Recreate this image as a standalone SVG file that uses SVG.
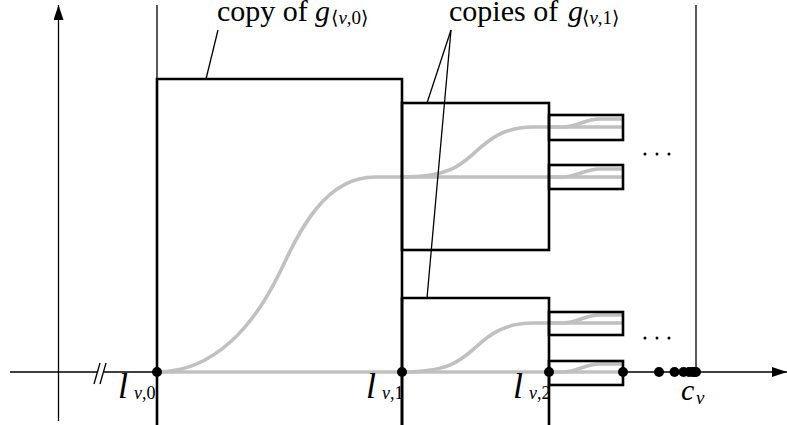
<svg xmlns="http://www.w3.org/2000/svg" width="787" height="425" viewBox="0 0 787 425">
<style>
.thin{stroke:#000;stroke-width:1.3;fill:none}
.box{stroke:#000;stroke-width:2.6;fill:none;stroke-linejoin:miter}
.gray{stroke:#c0c0c0;stroke-width:3.6;fill:none}
.dot{fill:#000}
.lbl{font-family:"Liberation Serif","DejaVu Serif",serif;fill:#000}
.it{font-style:italic}
</style>
<defs>
<marker id="ah" viewBox="0 0 15 10" refX="15" refY="5" markerWidth="15" markerHeight="10" markerUnits="userSpaceOnUse" orient="auto">
<path d="M0,0 L15,5 L0,10 Z" fill="#000"/>
</marker>
</defs>
<rect width="787" height="425" fill="#fff"/>
<g id="axes">
<line class="thin" x1="58.5" y1="421" x2="58.5" y2="5" marker-end="url(#ah)"/>
<line class="thin" x1="10" y1="372" x2="97" y2="372"/>
<line class="thin" x1="104" y1="372" x2="787" y2="372" marker-end="url(#ah)"/>
<line class="thin" x1="94" y1="384" x2="100" y2="363"/>
<line class="thin" x1="100" y1="384" x2="106" y2="363"/>
<line class="thin" x1="157" y1="5" x2="157" y2="79"/>
<line class="thin" x1="696" y1="5" x2="696" y2="372"/>
</g>
<g id="curves">
<path class="gray" d="M157,372 H623"/>
<path class="gray" d="M157,372 C215,372 255,324 280,272 C300,230 325,177 375,177 H623"/>
<path class="gray" d="M402,177 C450,177 461,164.7 476,151.4 C488,140.6 503,127 533,127 H623"/>
<path class="gray" d="M402,372 C450,372 461,360 476,347 C488,336 503,323 533,323 H623"/>
<path class="gray" d="M549,127 H562 C578,127 584,119 600,119 H623"/>
<path class="gray" d="M549,177 H562 C578,177 584,169 600,169 H623"/>
<path class="gray" d="M549,323 H562 C578,323 584,315 600,315 H623"/>
<path class="gray" d="M549,372 H562 C578,372 584,364 600,364 H623"/>
</g>
<g id="box-v0">
<path class="box" d="M157,425 V79 H402 V425"/>
</g>
<g id="box-v1-upper">
<rect class="box" x="402" y="103" width="147" height="147"/>
</g>
<g id="box-v1-lower">
<path class="box" d="M402,425 V298 H549 V425"/>
</g>
<g id="box-v2-a"><rect class="box" x="549" y="115" width="74" height="25"/></g>
<g id="box-v2-b"><rect class="box" x="549" y="165" width="74" height="24"/></g>
<g id="box-v2-c"><rect class="box" x="549" y="312" width="74" height="23"/></g>
<g id="box-v2-d"><rect class="box" x="549" y="361" width="74" height="24"/></g>
<g id="connectors">
<line class="thin" x1="218" y1="30" x2="206" y2="79"/>
<line class="thin" x1="451" y1="30" x2="427" y2="103"/>
<line class="thin" x1="451" y1="30" x2="427" y2="298"/>
</g>
<g id="points">
<circle class="dot" cx="157" cy="372" r="5"/>
<circle class="dot" cx="402" cy="372" r="5"/>
<circle class="dot" cx="549" cy="372" r="5"/>
<circle class="dot" cx="623" cy="372" r="5"/>
<circle class="dot" cx="659" cy="372" r="5"/>
<circle class="dot" cx="674.5" cy="372" r="5"/>
<circle class="dot" cx="683.5" cy="372" r="5"/>
<circle class="dot" cx="689" cy="372" r="5"/>
<circle class="dot" cx="692.5" cy="372" r="5"/>
<circle class="dot" cx="694.5" cy="372" r="5"/>
<circle class="dot" cx="696" cy="372" r="5"/>
</g>
<g id="ellipses">
<circle class="dot" cx="645" cy="154" r="1.5"/>
<circle class="dot" cx="657" cy="154" r="1.5"/>
<circle class="dot" cx="669" cy="154" r="1.5"/>
<circle class="dot" cx="645" cy="338" r="1.5"/>
<circle class="dot" cx="657" cy="338" r="1.5"/>
<circle class="dot" cx="669" cy="338" r="1.5"/>
</g>
<g id="labels" class="lbl">
<text x="217" y="21" font-size="30">copy of <tspan class="it" x="315">g</tspan><tspan font-size="19" x="331" dy="3">⟨<tspan class="it">v</tspan>,0⟩</tspan></text>
<text x="449" y="21" font-size="30">copies of <tspan class="it" x="568">g</tspan><tspan font-size="19" x="582" dy="3">⟨<tspan class="it">v</tspan>,1⟩</tspan></text>
<text x="118" y="398" font-size="36" class="it">l<tspan font-size="18" x="134" dy="1">v</tspan><tspan font-size="18" font-style="normal">,0</tspan></text>
<text x="366" y="398" font-size="36" class="it">l<tspan font-size="18" x="382" dy="1">v</tspan><tspan font-size="18" font-style="normal">,1</tspan></text>
<text x="513" y="398" font-size="36" class="it">l<tspan font-size="18" x="529" dy="1">v</tspan><tspan font-size="18" font-style="normal">,2</tspan></text>
<text x="681" y="400" font-size="30" class="it">c<tspan font-size="19" x="696" dy="4">v</tspan></text>
</g>
</svg>
